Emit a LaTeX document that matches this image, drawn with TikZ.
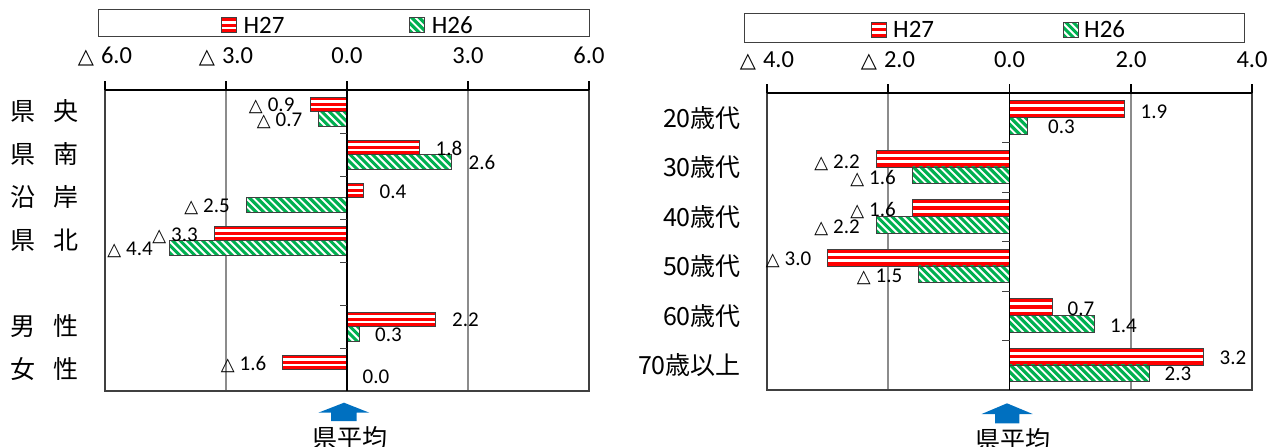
\documentclass[tikz,border=0pt]{standalone}
\usepackage{fontspec}
\newfontfamily\cjk{Noto Sans CJK JP}
\newfontfamily\lat{Carlito}
\newfontfamily\dv{DejaVu Sans}
\definecolor{bred}{HTML}{FF0000}
\definecolor{bgreen}{HTML}{00B050}
\definecolor{ablue}{HTML}{0070C0}
\definecolor{gridc}{HTML}{8C8C8C}
\definecolor{framec}{HTML}{404040}
\newcommand\valf{\lat\fontsize{21}{24}\selectfont}
\newcommand\tickf{\lat\fontsize{24.5}{28}\selectfont}
\newcommand\legf{\lat\fontsize{25}{28}\selectfont}
\newcommand\catf{\cjk\fontsize{25}{28}\selectfont}
\newcommand\vtri{{\dv\fontsize{18}{20}\selectfont △}\hspace{5pt}}
\newcommand\ttri{{\dv\fontsize{21}{24}\selectfont △}\hspace{7pt}}
% red striped bar: #1 zero x, #2 scale, #3 value, #4 y top, #5 y bottom
\newcommand\rbar[5]{%
  \pgfmathsetmacro\bxa{#1}\pgfmathsetmacro\bxb{#1+#2*#3}%
  \pgfmathsetmacro\bhh{#5-#4}%
  \fill[bred] (\bxa,#4) rectangle (\bxb,#5);
  \fill[white] (\bxa,{#4+0.22*\bhh}) rectangle (\bxb,{#4+0.39*\bhh});
  \fill[white] (\bxa,{#4+0.61*\bhh}) rectangle (\bxb,{#4+0.78*\bhh});
  \draw[barline] (\bxa,#4) rectangle (\bxb,#5);
}
% green hatched bar
\newcommand\gbar[5]{%
  \pgfmathsetmacro\bxa{min(#1,#1+#2*#3)}\pgfmathsetmacro\bxb{max(#1,#1+#2*#3)}%
  \pgfmathsetmacro\bhh{#5-#4}%
  \begin{scope}
    \clip (\bxa,#4) rectangle (\bxb,#5);
    \fill[white] (\bxa,#4) rectangle (\bxb,#5);
    \foreach \k in {0,...,30}{
      \draw[bgreen, line width=3.1pt] ({\bxa-\bhh-6+7.5*\k},{#4-1}) -- ({\bxa-4+7.5*\k},{#5+1});
    }
  \end{scope}
  \draw[barline] (\bxa,#4) rectangle (\bxb,#5);
}
\begin{document}
\begin{tikzpicture}[x=1pt,y=-1pt,
  barline/.style={draw=framec, line width=0.8pt},
  frameln/.style={draw=framec, line width=1.2pt},
  gridln/.style={draw=gridc, line width=1.3pt},
  axisln/.style={draw=black, line width=1.2pt},
  legbox/.style={draw=framec, line width=1pt},
  val/.style={font=\valf, anchor=base, inner sep=0pt},
  ticklbl/.style={font=\tickf, anchor=base, inner sep=0pt},
  leglbl/.style={font=\legf, anchor=base west, inner sep=0pt},
  catl/.style={font=\catf, anchor=base west, inner sep=0pt},
  catr/.style={font=\catf, anchor=base east, inner sep=0pt},
  avg/.style={font=\catf, anchor=base, inner sep=0pt},
  avgarrow/.style={fill=ablue, draw=none}]
\useasboundingbox (0,0) rectangle (1277,447);

% ================= LEFT CHART =================
% legend
\draw[legbox] (98,9) rectangle (589,36.5);
\rbar{221.7}{1}{15}{17.7}{32.7}
\gbar{409.3}{1}{15}{17.7}{32.7}
\node[leglbl] (lh27) at (243.3,33.3) {H27};
\node[leglbl] (lh26) at (431.7,33.3) {H26};
% tick labels
\node[ticklbl] (lt1) at (105,63.2) {\ttri 6.0};
\node[ticklbl] (lt2) at (226,63.2) {\ttri 3.0};
\node[ticklbl] (lt3) at (347,63.2) {0.0};
\node[ticklbl] (lt4) at (468,63.2) {3.0};
\node[ticklbl] (lt5) at (589,63.2) {6.0};
% grid and frame
\draw[gridln] (226,90) -- (226,391);
\draw[gridln] (468,90) -- (468,391);
\draw[frameln] (105,90) -- (105,391) -- (589,391) -- (589,90);
\draw[axisln] (105,90) -- (589,90);
\foreach \xx in {105,226,347,468,589} \draw[axisln] (\xx,81) -- (\xx,90);
% bars
\rbar{347}{40.333}{-0.9}{97}{111.5}
\gbar{347}{40.333}{-0.7}{111.5}{126}
\rbar{347}{40.333}{1.8}{140}{154.5}
\gbar{347}{40.333}{2.6}{154.5}{169}
\rbar{347}{40.333}{0.4}{183}{197.5}
\gbar{347}{40.333}{-2.5}{197.5}{212}
\rbar{347}{40.333}{-3.3}{226}{240.5}
\gbar{347}{40.333}{-4.4}{240.5}{255}
\rbar{347}{40.333}{2.2}{312}{326.5}
\gbar{347}{40.333}{0.3}{326.5}{341}
\rbar{347}{40.333}{-1.6}{355}{369.5}
% zero axis and category ticks
\draw[axisln] (347,90) -- (347,391);
\foreach \k in {1,...,7} \draw[draw=framec, line width=1pt] (340,{90+43*\k}) -- (347,{90+43*\k});
% category labels
\node[catl] (lc1) at (10,120) {県\hspace{18.5pt}央};
\node[catl] (lc2) at (10,163) {県\hspace{18.5pt}南};
\node[catl] (lc3) at (10,206) {沿\hspace{18.5pt}岸};
\node[catl] (lc4) at (10,249) {県\hspace{18.5pt}北};
\node[catl] (lc6) at (10,335) {男\hspace{18.5pt}性};
\node[catl] (lc7) at (10,378) {女\hspace{18.5pt}性};
% value labels
\node[val] (lv1) at (271.7,111.6) {\vtri 0.9};
\node[val] (lv2) at (279.5,126.6) {\vtri 0.7};
\node[val] (lv3) at (449,155.6) {1.8};
\node[val] (lv4) at (482,169.6) {2.6};
\node[val] (lv5) at (393,198.6) {0.4};
\node[val] (lv6) at (207,212.6) {\vtri 2.5};
\node[val] (lv7) at (175,241.6) {\vtri 3.3};
\node[val] (lv8) at (130,255.6) {\vtri 4.4};
\node[val] (lv9) at (465.5,326.6) {2.2};
\node[val] (lv10) at (388.5,341.6) {0.3};
\node[val] (lv11) at (243.5,370.6) {\vtri 1.6};
\node[val] (lv12) at (376,383.6) {0.0};
% arrow and label
\fill[avgarrow] (344,402.7) -- (369.3,412.7) -- (356.7,412.7) -- (356.7,421) -- (331,421) -- (331,412.7) -- (318.3,412.7) -- cycle;
\node[avg] (lavg) at (350,447.5) {県平均};

% ================= RIGHT CHART =================
\draw[legbox] (744,13) rectangle (1244,42);
\rbar{871}{1}{15}{22}{37}
\gbar{1063}{1}{15}{22}{37}
\node[leglbl] (rh27) at (893,37.6) {H27};
\node[leglbl] (rh26) at (1084,37.6) {H26};
\node[ticklbl] (rt1) at (767,67) {\ttri 4.0};
\node[ticklbl] (rt2) at (888,67) {\ttri 2.0};
\node[ticklbl] (rt3) at (1009.5,67) {0.0};
\node[ticklbl] (rt4) at (1131,67) {2.0};
\node[ticklbl] (rt5) at (1252,67) {4.0};
\draw[gridln] (888,93) -- (888,390);
\draw[gridln] (1131,93) -- (1131,390);
\draw[frameln] (767,93) -- (767,390) -- (1252,390) -- (1252,93);
\draw[axisln] (767,93) -- (1252,93);
\foreach \xx in {767,888,1009.5,1131,1252} \draw[axisln] (\xx,84) -- (\xx,93);
% bars
\rbar{1009.5}{60.625}{1.9}{100.7}{117.4}
\gbar{1009.5}{60.625}{0.3}{117.4}{134.1}
\rbar{1009.5}{60.625}{-2.2}{150.2}{166.9}
\gbar{1009.5}{60.625}{-1.6}{166.9}{183.6}
\rbar{1009.5}{60.625}{-1.6}{199.7}{216.4}
\gbar{1009.5}{60.625}{-2.2}{216.4}{233.1}
\rbar{1009.5}{60.625}{-3.0}{249.2}{265.9}
\gbar{1009.5}{60.625}{-1.5}{265.9}{282.6}
\rbar{1009.5}{60.625}{0.7}{298.7}{315.4}
\gbar{1009.5}{60.625}{1.4}{315.4}{332.1}
\rbar{1009.5}{60.625}{3.2}{348.2}{364.9}
\gbar{1009.5}{60.625}{2.3}{364.9}{381.6}
\draw[axisln] (1009.5,93) -- (1009.5,390);
\foreach \k in {1,...,6} \draw[draw=framec, line width=1pt] (1002,{93+49.5*\k}) -- (1009.5,{93+49.5*\k});
% category labels
\node[catr] (rc1) at (741,127.3) {20歳代};
\node[catr] (rc2) at (741,176.8) {30歳代};
\node[catr] (rc3) at (741,226.3) {40歳代};
\node[catr] (rc4) at (741,275.8) {50歳代};
\node[catr] (rc5) at (741,325.3) {60歳代};
\node[catr] (rc6) at (741,374.8) {70歳以上};
% value labels
\node[val] (rv1) at (1154,118.6) {1.9};
\node[val] (rv2) at (1061.5,133.6) {0.3};
\node[val] (rv3) at (837,168.6) {\vtri 2.2};
\node[val] (rv4) at (873,184.6) {\vtri 1.6};
\node[val] (rv5) at (873,216.6) {\vtri 1.6};
\node[val] (rv6) at (837,233.6) {\vtri 2.2};
\node[val] (rv7) at (788.5,265.6) {\vtri 3.0};
\node[val] (rv8) at (879.5,282.6) {\vtri 1.5};
\node[val] (rv9) at (1081,315.6) {0.7};
\node[val] (rv10) at (1123.5,332.6) {1.4};
\node[val] (rv11) at (1233,364.6) {3.2};
\node[val] (rv12) at (1178,380.6) {2.3};
% arrow and label
\fill[avgarrow] (1007,403.3) -- (1032.7,414) -- (1019.3,414) -- (1019.3,423.3) -- (995,423.3) -- (995,414) -- (981.7,414) -- cycle;
\node[avg] (ravg) at (1013,449.5) {県平均};
\end{tikzpicture}
\end{document}
